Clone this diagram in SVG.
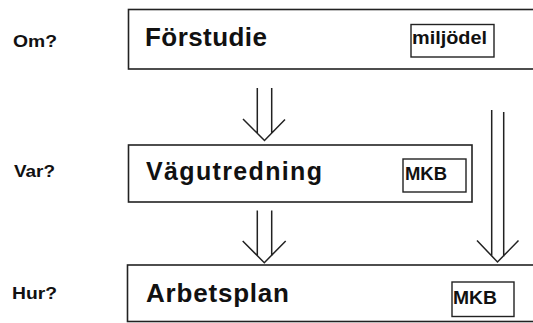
<svg xmlns="http://www.w3.org/2000/svg" width="533" height="323" viewBox="0 0 533 323">
<style>
.box{fill:#fff;stroke:#222;stroke-width:1.6}
.tag{fill:none;stroke:#222;stroke-width:1.4}
.t{font-family:"Liberation Sans",Arial,sans-serif;font-weight:bold;fill:#111}
.ln{fill:none;stroke:#222;stroke-width:1.5}
</style>
<rect width="533" height="323" fill="#fff"/>
<g id="labels">
<text class="t" x="13" y="47" font-size="17" textLength="44" lengthAdjust="spacingAndGlyphs">Om?</text>
<text class="t" x="14" y="176.5" font-size="17" textLength="41" lengthAdjust="spacingAndGlyphs">Var?</text>
<text class="t" x="12" y="298.5" font-size="17" textLength="45" lengthAdjust="spacingAndGlyphs">Hur?</text>
</g>
<g id="forstudie">
<rect class="box" x="128.5" y="9.5" width="420" height="59.5"/>
<text class="t" x="145" y="46" font-size="26" textLength="122">Förstudie</text>
<rect class="tag" x="411" y="24.5" width="83" height="32.5"/>
<text class="t" x="412" y="44" font-size="18.5" textLength="75" lengthAdjust="spacingAndGlyphs">miljödel</text>
</g>
<g id="vagutredning">
<rect class="box" x="128.5" y="145" width="343.5" height="57"/>
<text class="t" x="146" y="180" font-size="25" textLength="176">Vägutredning</text>
<rect class="tag" x="403" y="159" width="63" height="33"/>
<text class="t" x="405" y="180" font-size="18.5" textLength="42" lengthAdjust="spacingAndGlyphs">MKB</text>
</g>
<g id="arbetsplan">
<rect class="box" x="127.5" y="265" width="420" height="56.5"/>
<text class="t" x="146" y="302" font-size="26" textLength="143">Arbetsplan</text>
<rect class="tag" x="452" y="282" width="62" height="34.5"/>
<text class="t" x="453" y="304" font-size="19" textLength="44" lengthAdjust="spacingAndGlyphs">MKB</text>
</g>
<g id="connectors">
<path class="ln" d="M257.3,88 V133.5 M271.7,88 V133 M243,119 L264.5,140.5 L285,119.5"/>
<path class="ln" d="M257.3,210.5 V256 M271.7,210.5 V256 M242.7,241 L264.3,262.7 L285.7,241"/>
<path class="ln" d="M491.7,110 V256.5 M503.7,112 V256.5 M477,240.5 L497.5,262 L518.5,240.5"/>
</g>
</svg>
